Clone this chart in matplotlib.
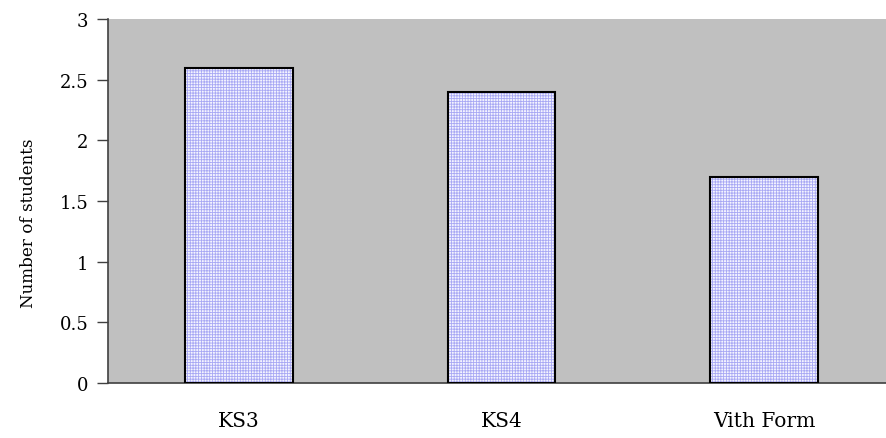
import matplotlib
matplotlib.use("Agg")
import matplotlib.pyplot as plt

categories = ["KS3", "KS4", "Vith Form"]
students = [2.6, 2.4, 1.7]
yticks = [0, 0.5, 1, 1.5, 2, 2.5, 3]
ytick_labels = ["0", "0.5", "1", "1.5", "2", "2.5", "3"]

plt.rcParams["font.family"] = ["DejaVu Serif"]
plt.rcParams["hatch.linewidth"] = 0.6

fig = plt.figure(figsize=(8.87, 4.39), dpi=100)
# the plot area runs slightly past the right edge of the figure
ax = fig.add_axes([108 / 887, 55 / 439, 787 / 887, 364 / 439])
ax.set_facecolor("#c0c0c0")

x = range(len(categories))
# patterned fill
ax.bar(x, students, width=0.41, color="#f4f4ff", edgecolor="#a8a8f4",
       hatch="++++++", linewidth=0, zorder=2)
# outline
ax.bar(x, students, width=0.41, facecolor="none", edgecolor="black",
       linewidth=1.5, zorder=3)

ax.set_xlim(-0.5, 2.5)
ax.set_ylim(0, 3)
ax.set_yticks(yticks)
ax.set_yticklabels(ytick_labels, fontsize=13)
ax.set_xticks(list(x))
ax.set_xticklabels(categories, fontsize=14.5)
ax.tick_params(axis="x", length=0, pad=20)
ax.tick_params(axis="y", length=8, width=1, color="#404040", pad=6)

for s in ["top", "right"]:
    ax.spines[s].set_visible(False)
ax.spines["left"].set_color("#404040")
ax.spines["bottom"].set_color("#404040")
ax.spines["left"].set_linewidth(1.2)
ax.spines["bottom"].set_linewidth(1.2)

fig.text(29 / 887, 1 - 223 / 439, "Number of students", rotation=90,
         ha="center", va="center", fontsize=12.1)

fig.savefig("out.png", dpi=100)
